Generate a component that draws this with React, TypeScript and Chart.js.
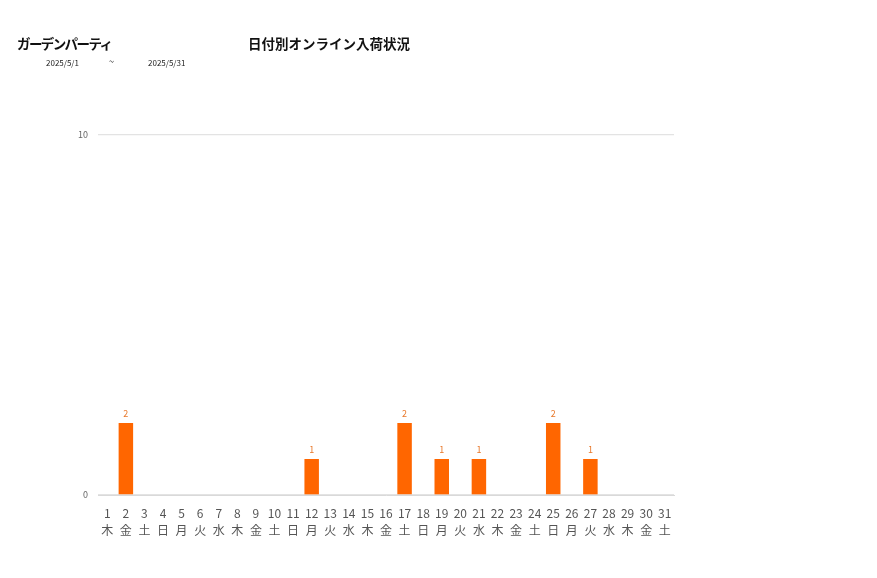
import React, { useEffect, useRef } from "react";
import { Chart, registerables } from "chart.js";

Chart.register(...registerables);

const days: string[] = ["1","2","3","4","5","6","7","8","9","10","11","12","13","14","15","16","17","18","19","20","21","22","23","24","25","26","27","28","29","30","31"];
const weekdays: string[] = ["木","金","土","日","月","火","水","木","金","土","日","月","火","水","木","金","土","日","月","火","水","木","金","土","日","月","火","水","木","金","土"];
const arrivals: number[] = [0,2,0,0,0,0,0,0,0,0,0,1,0,0,0,0,2,0,1,0,1,0,0,0,2,0,1,0,0,0,0];
const yTicks: number[] = [0, 10];

const FONT = "'Noto Sans CJK JP', 'Noto Sans', sans-serif";

const valueLabels = {
  id: "valueLabels",
  afterDatasetsDraw(chart: any) {
    const ctx = chart.ctx;
    const meta = chart.getDatasetMeta(0);
    ctx.save();
    ctx.fillStyle = "#E8782A";
    ctx.font = `9px ${FONT}`;
    ctx.textAlign = "center";
    ctx.textBaseline = "bottom";
    meta.data.forEach((bar: any, i: number) => {
      const v = arrivals[i];
      if (v > 0) ctx.fillText(String(v), bar.x, bar.y - 5);
    });
    ctx.restore();
  },
};

export default function App() {
  const ref = useRef<HTMLCanvasElement>(null);
  useEffect(() => {
    if (!ref.current) return;
    const chart = new Chart(ref.current, {
      type: "bar",
      data: {
        labels: days.map((d, i) => [d, weekdays[i]]),
        datasets: [
          {
            data: arrivals,
            backgroundColor: "#FF6600",
            barPercentage: 0.78,
            categoryPercentage: 1,
          },
        ],
      },
      options: {
        responsive: false,
        animation: false,
        layout: { padding: { left: 58, right: 203, top: 135, bottom: 23 } },
        plugins: { legend: { display: false }, tooltip: { enabled: false } },
        scales: {
          x: {
            grid: { display: false },
            border: { display: true, color: "#d9d9d9" },
            ticks: {
              color: "#555",
              font: { size: 12, family: FONT, lineHeight: "17px" },
              padding: 2,
              maxRotation: 0,
              autoSkip: false,
            },
            afterFit: (s: any) => { s.height = 60; },
          },
          y: {
            min: 0,
            max: 10,
            afterBuildTicks: (s: any) => { s.ticks = yTicks.map((v) => ({ value: v })); },
            grid: { color: "#e3e3e3", lineWidth: 1.3, drawTicks: false },
            border: { display: false },
            ticks: {
              color: "#666",
              font: { size: 9, family: FONT },
              padding: 10,
            },
            afterFit: (s: any) => { s.width = 40; },
          },
        },
      },
      plugins: [valueLabels],
    });
    return () => chart.destroy();
  }, []);

  return (
    <div style={{ position: "absolute", left: 0, top: 0, width: 877, height: 578, background: "#fff", fontFamily: FONT }}>
      <canvas ref={ref} width={877} height={578} style={{ position: "absolute", left: 0, top: 0 }} />
      <div style={{ position: "absolute", left: 17, top: 33, fontSize: 13.5, letterSpacing: "-1.6px", fontWeight: "bold", color: "#111", whiteSpace: "nowrap", lineHeight: "20px" }}>ガーデンパーティ</div>
      <div style={{ position: "absolute", left: 248, top: 33, fontSize: 13.5, fontWeight: "bold", color: "#111", whiteSpace: "nowrap", lineHeight: "20px" }}>日付別オンライン入荷状況</div>
      <div style={{ position: "absolute", left: 46, top: 57, fontSize: 8, color: "#222", whiteSpace: "nowrap", lineHeight: "12px" }}>2025/5/1</div>
      <div style={{ position: "absolute", left: 109, top: 56, fontSize: 9, color: "#222", whiteSpace: "nowrap", lineHeight: "12px" }}>~</div>
      <div style={{ position: "absolute", left: 148, top: 57, fontSize: 8, color: "#222", whiteSpace: "nowrap", lineHeight: "12px" }}>2025/5/31</div>
    </div>
  );
}
